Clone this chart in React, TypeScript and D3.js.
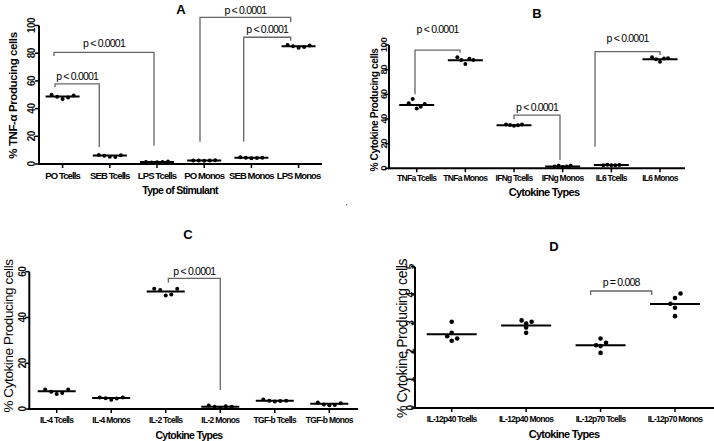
import React from "react";
import * as d3 from "d3";

// ---------- DATA ----------
const catsA = ["PO Tcells", "SEB Tcells", "LPS Tcells", "PO Monos", "SEB Monos", "LPS Monos"];
const ptsA = [
  [50, 48.5, 47, 48, 49.5],
  [6.5, 6, 5.2, 5.0, 6.3],
  [1.5, 1.0, 1.2, 1.5, 1.8],
  [2.5, 2.6, 2.4, 2.5, 2.7],
  [4.8, 4.5, 4.2, 4.3, 4.6],
  [86, 85, 84, 84.5, 85.5],
];
const medA = [48.8, 6.1, 1.5, 2.5, 4.5, 85];
const ticksA = [0, 20, 40, 60, 80, 100];
const bracketsA = [
  { a: 0, b: 1, top: 57.8, botA: 55.6, botB: 12.3, label: "p < 0.0001" },
  { a: 0, b: 2, top: 80.6, botA: 78, botB: 13.2, label: "p < 0.0001" },
  { a: 3, b: 5, top: 105.9, botA: 16.1, botB: 102.5, label: "p < 0.0001" },
  { a: 4, b: 5, top: 91.5, botA: 16.1, botB: 89, label: "p < 0.0001" },
];

const catsB = ["TNFa Tcells", "TNFa Monos", "IFNg Tcells", "IFNg Monos", "IL6 Tcells", "IL6 Monos"];
const ptsB = [
  [52.7, 56.2, 48.6, 50, 52.2],
  [90, 87.8, 84.6, 88.9, 87.8],
  [35.5, 35.2, 34.5, 35, 35.6],
  [1.5, 2.0, 1.0, 1.5, 2.0],
  [2.5, 2.8, 2.5, 2.5, 2.6],
  [90, 88.5, 86.5, 89, 89.3],
];
const medB = [51.3, 87.6, 35, 1.5, 2.6, 88.5];
const ticksB = [0, 20, 40, 60, 80, 100];
const bracketsB = [
  { a: 0, b: 1, top: 95.9, botA: 60, botB: 93.8, label: "p < 0.0001" },
  { a: 2, b: 3, top: 43.2, botA: 39.7, botB: 6.7, label: "p < 0.0001" },
  { a: 4, b: 5, top: 94.6, botA: 17.5, botB: 91.9, label: "p < 0.0001" },
];

const catsC = ["IL-4 Tcells", "IL-4 Monos", "IL-2 Tcells", "IL-2 Monos", "TGF-b Tcells", "TGF-b Monos"];
const ptsC = [
  [8.5, 7.5, 6.6, 7.0, 8.5],
  [5.0, 4.7, 4.0, 4.6, 5.0],
  [52.5, 52, 49.6, 50, 52.5],
  [1.5, 1.0, 0.6, 1.2, 1.0],
  [4.2, 3.6, 3.3, 3.5, 3.6],
  [2.8, 2.0, 1.6, 1.8, 2.5],
];
const medC = [7.8, 4.8, 51.3, 1.0, 3.6, 2.3];
const ticksC = [0, 20, 40, 60];
const bracketsC = [{ a: 2, b: 3, top: 57.1, botA: 55.2, botB: 8.3, label: "p < 0.0001" }];

const catsD = ["IL-12p40 Tcells", "IL-12p40 Monos", "IL-12p70 Tcells", "IL-12p70 Monos"];
const ptsD = [
  [2.54, 3.05, 2.66, 2.38, 2.46],
  [3.1, 2.99, 2.85, 2.66, 3.05],
  [2.22, 2.46, 1.95, 2.19, 2.31],
  [3.69, 3.55, 3.25, 3.89, 4.05],
];
const medD = [2.61, 2.92, 2.22, 3.68];
const ticksD = [0, 1, 2, 3, 4, 5];
const bracketsD = [{ a: 2, b: 3, top: 4.14, botA: 4.0, botB: 4.0, label: "p = 0.008" }];

// ---------- LAYOUT ----------
const FONT = "'Liberation Sans', Arial, sans-serif";

type Br = { a: number; b: number; top: number; botA: number; botB: number; label: string };

type PanelCfg = {
  title: string;
  titleXY: [number, number];
  cats: string[];
  pts: number[][];
  med: number[];
  ticks: number[];
  brackets: Br[];
  brDx: [number, number][];
  brLabelDy: number[];
  centers: [number, number];
  axisX: [number, number];
  yPix: [number, number];
  yMax: number;
  yLabel: string;
  yLabelXY: [number, number];
  yLabelSize: number;
  yLabelWeight: string;
  xLabel: string;
  xLabelXY: [number, number];
  xLabelSize: number;
  tickLabelY: number;
  tickLabelSize: number;
  tickLabelSpacing: number;
  yTickLabelX: number;
  yTickSize: number;
  medHalf: number;
  jitter: number[];
  r: number;
};

const panels: PanelCfg[] = [
  {
    title: "A", titleXY: [181, 9], cats: catsA, pts: ptsA, med: medA, ticks: ticksA,
    brackets: bracketsA,
    brDx: [[-7.6, -10.5], [-8.6, -3], [-4.2, -7.9], [-7.7, -7.9]],
    brLabelDy: [8, 9, 7, 8],
    centers: [62.6, 298.6], axisX: [39, 322], yPix: [164, 25.5], yMax: 100,
    yLabel: "% TNF-\u03b1 Producing cells", yLabelXY: [13, 95.5], yLabelSize: 11.5, yLabelWeight: "bold",
    xLabel: "Type of Stimulant", xLabelXY: [180, 190], xLabelSize: 10.5,
    tickLabelY: 175, tickLabelSize: 9.5, tickLabelSpacing: -0.9, yTickLabelX: 31.5, yTickSize: 10,
    medHalf: 17, jitter: [-11, -5.5, 0, 5.5, 11], r: 2,
  },
  {
    title: "B", titleXY: [537, 13], cats: catsB, pts: ptsB, med: medB, ticks: ticksB,
    brackets: bracketsB,
    brDx: [[-1.7, -5.3], [0, -2.7], [-16.3, 0]],
    brLabelDy: [21, 8, 14],
    centers: [416.7, 660], axisX: [389, 685], yPix: [168.3, 45], yMax: 100,
    yLabel: "% Cytokine Producing cells", yLabelXY: [374, 110], yLabelSize: 10.2, yLabelWeight: "bold",
    xLabel: "Cytokine Types", xLabelXY: [544, 192], xLabelSize: 11,
    tickLabelY: 177.5, tickLabelSize: 8.5, tickLabelSpacing: -0.7, yTickLabelX: 383, yTickSize: 9.5,
    medHalf: 17.5, jitter: [-8, -4, 0, 4, 8], r: 2,
  },
  {
    title: "C", titleXY: [188, 234], cats: catsC, pts: ptsC, med: medC, ticks: ticksC,
    brackets: bracketsC,
    brDx: [[2.6, 0]],
    brLabelDy: [7],
    centers: [56.7, 329.3], axisX: [29.3, 358], yPix: [409, 271.7], yMax: 60,
    yLabel: "% Cytokine Producing cells", yLabelXY: [8, 336], yLabelSize: 13.5, yLabelWeight: "normal",
    xLabel: "Cytokine Types", xLabelXY: [189, 435], xLabelSize: 10.5,
    tickLabelY: 419.5, tickLabelSize: 8.5, tickLabelSpacing: -0.7, yTickLabelX: 22, yTickSize: 10,
    medHalf: 19, jitter: [-11.5, -5.5, 0, 5.5, 11.5], r: 2,
  },
  {
    title: "D", titleXY: [554, 246], cats: catsD, pts: ptsD, med: medD, ticks: ticksD,
    brackets: bracketsD,
    brDx: [[-10, -23.3]],
    brLabelDy: [9.3],
    centers: [451.7, 675], axisX: [415, 714], yPix: [408, 266.7], yMax: 5,
    yLabel: "% Cytokine Producing cells", yLabelXY: [402, 338.5], yLabelSize: 14, yLabelWeight: "normal",
    xLabel: "Cytokine Types", xLabelXY: [564, 434], xLabelSize: 11,
    tickLabelY: 418.5, tickLabelSize: 8.5, tickLabelSpacing: -0.7, yTickLabelX: 410.5, yTickSize: 10,
    medHalf: 25, jitter: [-4.5, 0, 0, 0, 5.5], r: 2.3,
  },
];

function Panel({ p }: { p: PanelCfg }) {
  const x = d3.scalePoint<string>().domain(p.cats).range(p.centers);
  const y = d3.scaleLinear().domain([0, p.yMax]).range(p.yPix);
  const x0 = p.axisX[0];
  const yb = y(0);
  return (
    <g>
      <text x={p.titleXY[0]} y={p.titleXY[1]} textAnchor="middle" dominantBaseline="central"
        fontFamily={FONT} fontWeight="bold" fontSize={13}>{p.title}</text>
      {/* axes */}
      <line x1={x0} x2={x0} y1={y(0) + 1} y2={y(p.yMax)} stroke="#000" strokeWidth={2} />
      <line x1={x0 - 1} x2={p.axisX[1]} y1={yb} y2={yb} stroke="#000" strokeWidth={2} />
      {p.ticks.map((t) => (
        <g key={"yt" + t}>
          <line x1={x0 - 4} x2={x0} y1={y(t)} y2={y(t)} stroke="#000" strokeWidth={1.5} />
          <text transform={`translate(${p.yTickLabelX},${y(t)}) rotate(-90)`} textAnchor="middle"
            dominantBaseline="central" fontFamily={FONT} fontWeight="bold" fontSize={p.yTickSize}
            letterSpacing={-0.5} fill="#111">{t}</text>
        </g>
      ))}
      {p.cats.map((c) => (
        <g key={"xt" + c}>
          <line x1={x(c)!} x2={x(c)!} y1={yb} y2={yb + 4} stroke="#000" strokeWidth={1.5} />
          <text x={x(c)!} y={p.tickLabelY} textAnchor="middle" dominantBaseline="central"
            fontFamily={FONT} fontWeight="bold" fontSize={p.tickLabelSize}
            letterSpacing={p.tickLabelSpacing}>{c}</text>
        </g>
      ))}
      {/* axis titles */}
      <text transform={`translate(${p.yLabelXY[0]},${p.yLabelXY[1]}) rotate(-90)`} textAnchor="middle"
        dominantBaseline="central" fontFamily={FONT} fontWeight={p.yLabelWeight} fontSize={p.yLabelSize}
        letterSpacing={-0.4}>{p.yLabel}</text>
      <text x={p.xLabelXY[0]} y={p.xLabelXY[1]} textAnchor="middle" dominantBaseline="central"
        fontFamily={FONT} fontWeight="bold" fontSize={p.xLabelSize} letterSpacing={-0.7}>{p.xLabel}</text>
      {/* brackets */}
      {p.brackets.map((b, i) => {
        const xa = x(p.cats[b.a])! + p.brDx[i][0];
        const xb = x(p.cats[b.b])! + p.brDx[i][1];
        const yt = y(b.top);
        return (
          <g key={"br" + i}>
            <path d={`M${xa},${y(b.botA)}V${yt}H${xb}V${y(b.botB)}`} fill="none" stroke="#666" strokeWidth={1.3} />
            <text x={(xa + xb) / 2} y={yt - p.brLabelDy[i]} textAnchor="middle" dominantBaseline="central"
              fontFamily={FONT} fontSize={10.5} letterSpacing={-0.8}>{b.label}</text>
          </g>
        );
      })}
      {/* medians & points */}
      {p.cats.map((c, i) => (
        <g key={"d" + c}>
          <line x1={x(c)! - p.medHalf} x2={x(c)! + p.medHalf} y1={y(p.med[i])} y2={y(p.med[i])}
            stroke="#000" strokeWidth={2} />
          {p.pts[i].map((v, j) => (
            <circle key={j} cx={x(c)! + p.jitter[j]} cy={y(v)} r={p.r} fill="#000" />
          ))}
        </g>
      ))}
    </g>
  );
}

export default function App() {
  return (
    <svg width={714} height={441} style={{ position: "absolute", left: 0, top: 0, background: "#fff" }}>
      <rect width={714} height={441} fill="#fff" />
      {panels.map((p) => (
        <Panel key={p.title} p={p} />
      ))}
      <rect x={346} y={204} width={1.2} height={1.2} fill="#666" />
    </svg>
  );
}
